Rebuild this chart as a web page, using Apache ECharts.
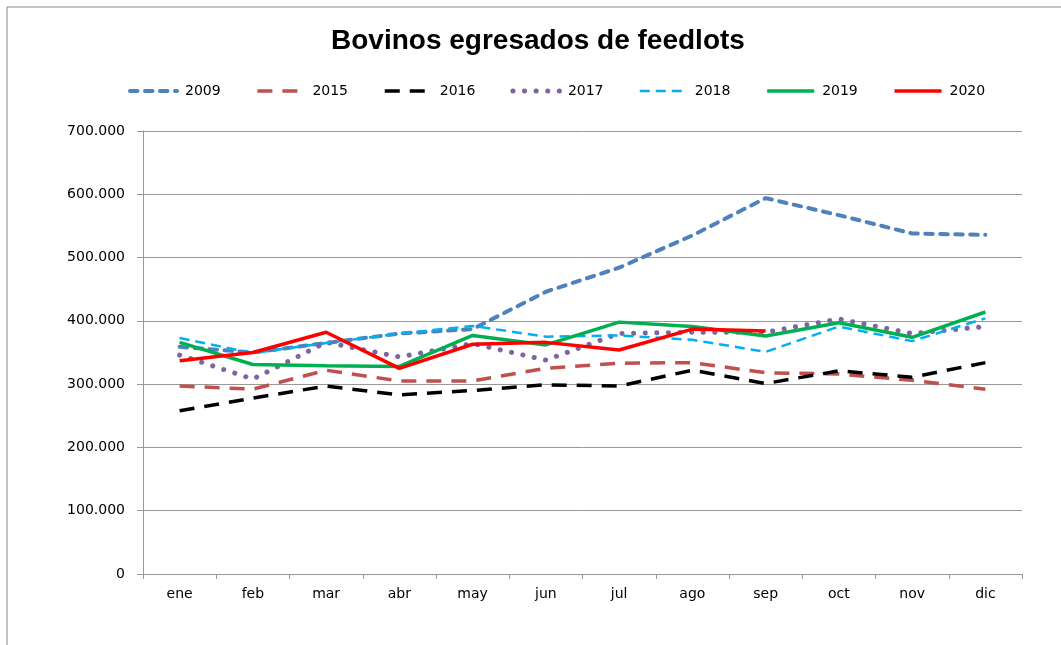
<!DOCTYPE html>
<html>
<head>
<meta charset="utf-8">
<script src="https://cdn.jsdelivr.net/npm/echarts@6/dist/echarts.min.js"></script>
<style>
  html, body { margin: 0; padding: 0; background: #fff; }
  #chart { width: 1061px; height: 645px; }
</style>
</head>
<body>
<div id="chart"></div>
<script>
var meses = ['ene', 'feb', 'mar', 'abr', 'may', 'jun', 'jul', 'ago', 'sep', 'oct', 'nov', 'dic'];
var yTicks = [0, 100000, 200000, 300000, 400000, 500000, 600000, 700000];

var d2009 = [359000, 350000, 365000, 380000, 387000, 446000, 484000, 535000, 594000, 567000, 538000, 536000];
var d2015 = [297000, 292000, 322000, 305000, 305000, 325000, 333000, 334000, 318000, 316000, 306000, 292000];
var d2016 = [258000, 278000, 297000, 283000, 290000, 299000, 297000, 322000, 301000, 321000, 311000, 334000];
var d2017 = [346000, 308000, 366000, 343000, 364000, 338000, 380000, 382000, 382000, 403000, 380000, 391000];
var d2018 = [373000, 349000, 365000, 380000, 392000, 375000, 377000, 370000, 351000, 391000, 368000, 404000];
var d2019 = [366000, 331000, 329000, 328000, 377000, 362000, 398000, 391000, 376000, 397000, 374000, 414000];
var d2020 = [337000, 350000, 382000, 325000, 363000, 366000, 354000, 387000, 384000, null, null, null];

var chart = echarts.init(document.getElementById('chart'));

// formato miles con punto
function fmt(v) {
    return String(v).replace(/\B(?=(\d{3})+(?!\d))/g, '.');
}

function serie(name, data, color, width, dash, cap) {
    return {
        name: name,
        type: 'line',
        data: data,
        symbol: 'none',
        smooth: false,
        lineStyle: {
            color: color,
            width: width,
            type: dash,
            cap: cap || 'butt'
        },
        itemStyle: { color: color }
    };
}

var option = {
    animation: false,
    textStyle: { fontFamily: 'DejaVu Sans' },
    graphic: [{
        type: 'rect',
        shape: { x: 7, y: 7, width: 1070, height: 650 },
        style: { fill: 'none', stroke: '#888', lineWidth: 1 },
        silent: true
    }],
    title: {
        text: 'Bovinos egresados de feedlots',
        left: 326,
        top: 22,
        textStyle: {
            fontFamily: 'Liberation Sans',
            fontWeight: 'bold',
            fontSize: 28,
            color: '#000'
        }
    },
    legend: {
        top: 79,
        left: 123,
        itemWidth: 47,
        itemHeight: 6,
        itemGap: 35,
        itemStyle: { opacity: 0 },
        lineStyle: { width: 'inherit' },
        textStyle: { fontSize: 14, color: '#000', fontFamily: 'DejaVu Sans', padding: [0, 0, 0, 3] },
        data: ['2009', '2015', '2016', '2017', '2018', '2019', '2020']
    },
    grid: {
        left: 143,
        right: 39,
        top: 131,
        bottom: 71
    },
    xAxis: {
        type: 'category',
        data: meses,
        boundaryGap: true,
        axisLine: { lineStyle: { color: '#999', width: 1 } },
        axisTick: { show: true, alignWithLabel: false, length: 5, lineStyle: { color: '#999' } },
        axisLabel: { color: '#000', fontSize: 14, margin: 13 }
    },
    yAxis: {
        type: 'value',
        min: yTicks[0],
        max: yTicks[yTicks.length - 1],
        interval: 100000,
        axisLine: { show: true, lineStyle: { color: '#999', width: 1 } },
        axisTick: { show: true, length: 6, inside: false, lineStyle: { color: '#999' } },
        splitLine: { lineStyle: { color: '#999', width: 1 } },
        axisLabel: { color: '#000', fontSize: 14, margin: 18, formatter: fmt }
    },
    series: [
        serie('2009', d2009, '#4F81BD', 4, [7.5, 7.5], 'round'),
        serie('2015', d2015, '#C0504D', 3.5, [15, 10]),
        serie('2016', d2016, '#000000', 3.5, [15, 10]),
        serie('2017', d2017, '#8064A2', 5, [0.1, 11.5], 'round'),
        serie('2018', d2018, '#00B0F0', 2.5, [10, 6]),
        serie('2019', d2019, '#00B050', 3.5, 'solid'),
        serie('2020', d2020, '#FF0000', 3.5, 'solid')
    ]
};

option && chart.setOption(option);
</script>
</body>
</html>
